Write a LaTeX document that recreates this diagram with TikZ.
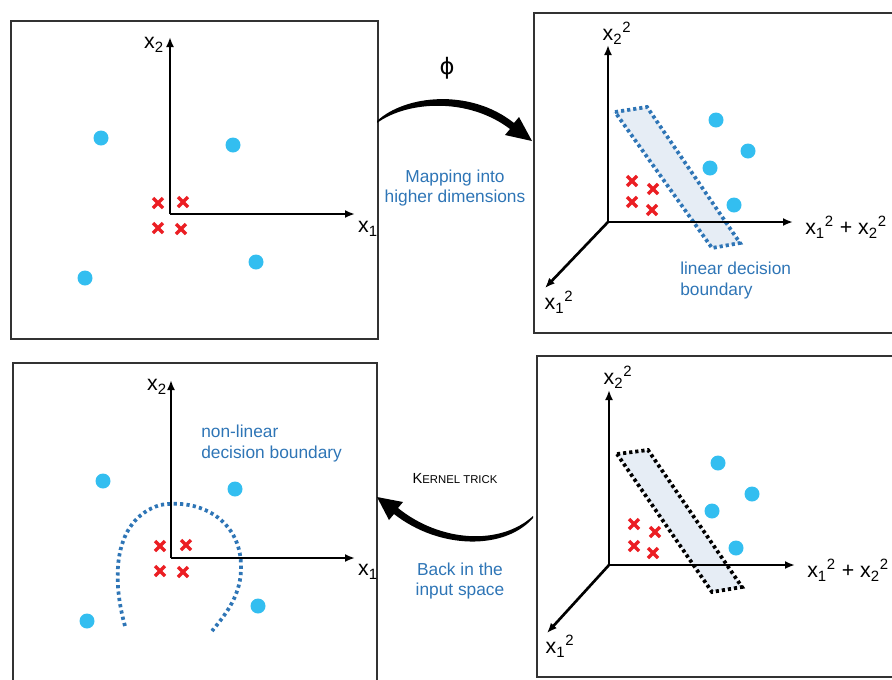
\documentclass[tikz,border=0pt]{standalone}
\usepackage{fontspec}
\setmainfont{Liberation Sans}
\newfontfamily\greekfont{DejaVu Sans}
\usetikzlibrary{arrows.meta,positioning}
\definecolor{txtblue}{RGB}{46,117,182}
\definecolor{dotblue}{RGB}{51,190,240}
\definecolor{crossred}{RGB}{235,30,35}
\definecolor{planefill}{RGB}{230,237,245}
\definecolor{framegray}{RGB}{50,50,50}

\begin{document}
\begin{tikzpicture}[x=0.75pt,y=-0.75pt,
  panel/.style={draw=framegray, line width=1.6pt},
  axis/.style={line width=2pt, -{Latex[length=7.5pt,width=6pt]}},
  lbl/.style={font=\fontsize{16}{18}\selectfont, inner sep=0pt},
  note/.style={text=txtblue, font=\fontsize{13}{15.5}\selectfont, inner sep=0pt},
  dot/.style={fill=dotblue},
  plane/.style={fill=planefill, line width=2.8pt, dash pattern=on 2.4pt off 2.2pt},
  redx/.pic={\draw[crossred, line width=2.6pt] (-5,-5) -- (5,5) (-5,5) -- (5,-5);}
]
\clip (0,0) rectangle (892,679);
\useasboundingbox (0,0) rectangle (892,679);

% panels
\draw[panel] (11,21) rectangle (378,339);
\draw[panel] (534,13) rectangle (900,333);
\draw[panel] (13,363) rectangle (377,690);
\draw[panel] (537,356) rectangle (900,677);

% top left: input space
\coordinate (tlo) at (170,214);
\coordinate (tly) at (170,37);
\coordinate (tlx) at (355,214);
\draw[axis] (tlo) -- (tly);
\draw[axis] (tlo) -- (tlx);
\node[lbl] (tlylbl) at (154,45) {x\textsubscript{2}};
\node[lbl] (tlxlbl) at (368,229) {x\textsubscript{1}};
\foreach \x/\y in {101/138, 233/145, 85/278, 256/262}
  \fill[dot] (\x,\y) circle (7.5);
\foreach \x/\y in {158/203, 183/202, 158/228, 181/229}
  \pic at (\x,\y) {redx};

% top right: feature space
\coordinate (tro) at (608,222);
\coordinate (try) at (608,45);
\coordinate (trx) at (793,222);
\coordinate (trz) at (545,288);
\fill[plane, draw=txtblue] (615,112) -- (647,107) -- (740,243) -- (712,248) -- cycle;
\draw[axis] (tro) -- (try);
\draw[axis] (tro) -- (trx);
\draw[axis] (tro) -- (trz);
\node[lbl] (trylbl) at (617,33) {x\textsubscript{2}\textsuperscript{2}};
\node[lbl, anchor=west] (trxlbl) at (805,227) {x\textsubscript{1}\textsuperscript{2} + x\textsubscript{2}\textsuperscript{2}};
\node[lbl] (trzlbl) at (559,302) {x\textsubscript{1}\textsuperscript{2}};
\foreach \x/\y in {716/120, 748/151, 710/168, 734/205}
  \fill[dot] (\x,\y) circle (7.5);
\foreach \x/\y in {632/181, 653/189, 632/202, 652/210}
  \pic at (\x,\y) {redx};
\node[note, align=left, anchor=north west] (linlbl) at (680,262) {linear decision\\boundary};

% bottom right: feature space again
\coordinate (bro) at (609,565);
\coordinate (bry) at (609,390);
\coordinate (brx) at (795,565);
\coordinate (brz) at (547,633);
\fill[plane, draw=black] (617,454) -- (648,450) -- (742,587) -- (712,592) -- cycle;
\draw[axis] (bro) -- (bry);
\draw[axis] (bro) -- (brx);
\draw[axis] (bro) -- (brz);
\node[lbl] (brylbl) at (618,377) {x\textsubscript{2}\textsuperscript{2}};
\node[lbl, anchor=west] (brxlbl) at (807,570) {x\textsubscript{1}\textsuperscript{2} + x\textsubscript{2}\textsuperscript{2}};
\node[lbl] (brzlbl) at (560,646) {x\textsubscript{1}\textsuperscript{2}};
\foreach \x/\y in {718/463, 752/494, 712/511, 736/548}
  \fill[dot] (\x,\y) circle (7.5);
\foreach \x/\y in {634/524, 655/532, 634/546, 653/553}
  \pic at (\x,\y) {redx};

% bottom left: back in input space
\coordinate (blo) at (171,558);
\coordinate (bly) at (171,380);
\coordinate (blx) at (355,558);
\draw[txtblue, line width=2.8pt, dash pattern=on 2.4pt off 2.4pt]
  (125,626) .. controls (112,580) and (112,520) .. (160,505)
  .. controls (200,498) and (240,520) .. (241,565)
  .. controls (242,595) and (225,615) .. (212,631);
\draw[axis] (blo) -- (bly);
\draw[axis] (blo) -- (blx);
\node[lbl] (blylbl) at (157,387) {x\textsubscript{2}};
\node[lbl] (blxlbl) at (368,572) {x\textsubscript{1}};
\foreach \x/\y in {103/481, 235/489, 87/621, 258/606}
  \fill[dot] (\x,\y) circle (7.5);
\foreach \x/\y in {160/546, 186/545, 160/571, 183/572}
  \pic at (\x,\y) {redx};
\node[note, align=left, anchor=north west] (nonlbl) at (201,425) {non-linear\\decision boundary};

% mapping arrow
\coordinate (mapfrom) at (377,122);
\coordinate (mapto) at (532,141);
\fill (mapfrom) ++(0,-1) .. controls (405,95) and (470,88) .. (514,123) -- (519,117) -- (mapto)
  -- (505,135) -- (510,129) .. controls (468,97) and (407,101) .. (377,123) -- cycle;
\node[font=\greekfont\fontsize{17}{19}\selectfont] (phi) at (447,68) {ϕ};
\node[note, align=center] (maplbl) at (455,188) {Mapping into\\higher dimensions};

% kernel trick arrow
\coordinate (backfrom) at (533,517);
\coordinate (backto) at (377,497);
\fill (backfrom) ++(0,-1) .. controls (500,546) and (440,542) .. (398,508) -- (403,502) -- (backto)
  -- (389,520) -- (394,514) .. controls (440,550) and (505,550) .. (533,518) -- cycle;
\node (ktrick) at (455,478) {{\fontsize{11}{13}\selectfont K}{\fontsize{8.5}{10}\selectfont ERNEL TRICK}};
\node[note, align=center] (backlbl) at (460,581) {Back in the\\input space};
\end{tikzpicture}
\end{document}
